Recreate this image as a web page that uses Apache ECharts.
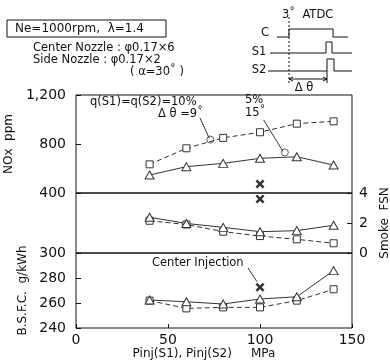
<!DOCTYPE html>
<html>
<head>
<meta charset="utf-8">
<script src="https://cdn.jsdelivr.net/npm/echarts@6/dist/echarts.min.js"></script>
<style>
  html, body { margin: 0; padding: 0; background: #fff; }
  #chart { width: 390px; height: 364px; }
</style>
</head>
<body>
<div id="chart"></div>
<script>
// data
var pinj = [40, 60, 80, 100, 120, 140];
var noxSquare = [634, 765, 850, 896, 966, 985];
var noxTriangle = [547, 615, 642, 683, 696, 628];
var smokeSquare = [2.15, 1.9, 1.42, 1.13, 0.91, 0.65];
var smokeTriangle = [2.38, 1.97, 1.71, 1.42, 1.49, 1.85];
var bsfcSquare = [261.9, 255.7, 256.5, 256.5, 261.9, 271];
var bsfcTriangle = [262.4, 261, 259.2, 263.2, 265, 285.9];
// center injection only (x marks)
var centerPinj = 100;
var centerNox = 473;
var centerSmoke = 3.6;
var centerBsfc = 272.6;
// circles at leader ends
var circleNox = [[73, 836], [113.5, 731]];
// leader lines (label end -> point)
var leader1 = [[67.4, 1012], [72.5, 845]];
var leader2 = [[102, 996], [112.5, 740]];
var leader3 = [[93.5, 288], [98.4, 277]];

var noxTicks = [400, 1200, 400];
var smokeTicks = [0, 4, 2];
var bsfcTicks = [240, 300, 20];

var chart = echarts.init(document.getElementById('chart'));

function zip(xs, ys) {
  return xs.map(function (x, i) { return [x, ys[i]]; });
}

var font = 'DejaVu Sans';
var ink = '#111';
var mark = '#333';
var xMark = 'path://M0,2L2,0L5,3L8,0L10,2L7,5L10,8L8,10L5,7L2,10L0,8L3,5Z';

function xAx(idx, showLabel) {
  return {
    gridIndex: idx, type: 'value', min: 0, max: 150, interval: 50,
    axisLine: { show: false, onZero: false },
    axisTick: { show: showLabel, inside: true, length: 4, lineStyle: { color: ink } },
    splitLine: { show: false },
    axisLabel: { show: showLabel, color: ink, fontFamily: font, fontSize: 14, margin: 5 },
    name: showLabel ? 'Pinj(S1), Pinj(S2)     MPa' : '',
    nameLocation: 'middle', nameGap: 20,
    nameTextStyle: { color: ink, fontFamily: font, fontSize: 12, padding: [0, 20, 0, 0] }
  };
}

function lineSeries(grid, ys, sym, dashed) {
  return {
    type: 'line', xAxisIndex: grid, yAxisIndex: grid,
    data: zip(pinj, ys),
    symbol: sym, symbolSize: sym === 'triangle' ? [9, 8] : 7,
    lineStyle: { color: mark, width: 1, type: dashed ? [5, 3] : 'solid' },
    itemStyle: { color: '#fff', borderColor: mark, borderWidth: 1 },
    animation: false
  };
}

function leader(grid, pts) {
  return {
    type: 'line', xAxisIndex: grid, yAxisIndex: grid, data: pts,
    symbol: 'none', lineStyle: { color: mark, width: 1 }, animation: false, silent: true
  };
}

function txt(x, y, s, size, align) {
  return {
    type: 'text', x: x, y: y,
    style: { text: s, fill: ink, font: (size || 11) + 'px "' + font + '"', align: align || 'left', verticalAlign: 'middle' }
  };
}

function gridBox(top, height) {
  return { left: 76, right: 38, top: top, height: height, show: true, borderColor: ink, borderWidth: 1, outerBoundsMode: 'none', containLabel: false };
}

var option = {
  backgroundColor: '#fff',
  grid: [gridBox(95, 98), gridBox(193, 60), gridBox(253, 75)],
  xAxis: [xAx(0, false), xAx(1, false), xAx(2, true)],
  yAxis: [
    {
      gridIndex: 0, type: 'value', min: noxTicks[0], max: noxTicks[1], interval: noxTicks[2],
      axisLine: { show: false, onZero: false }, splitLine: { show: false },
      axisTick: { inside: true, length: 5, lineStyle: { color: ink } },
      axisLabel: { color: ink, fontFamily: font, fontSize: 14, margin: 10 },
      name: 'NOx  ppm', nameLocation: 'middle', nameGap: 50, nameRotate: 90,
      nameTextStyle: { color: ink, fontFamily: font, fontSize: 12 }
    },
    {
      gridIndex: 1, type: 'value', position: 'right', min: smokeTicks[0], max: smokeTicks[1], interval: smokeTicks[2],
      axisLine: { show: false, onZero: false }, splitLine: { show: false },
      axisTick: { inside: true, length: 5, lineStyle: { color: ink } },
      axisLabel: { color: ink, fontFamily: font, fontSize: 14, margin: 7 },
      name: 'Smoke  FSN', nameLocation: 'middle', nameGap: 20, nameRotate: 90,
      nameTextStyle: { color: ink, fontFamily: font, fontSize: 12 }
    },
    {
      gridIndex: 2, type: 'value', min: bsfcTicks[0], max: bsfcTicks[1], interval: bsfcTicks[2],
      axisLine: { show: false, onZero: false }, splitLine: { show: false },
      axisTick: { inside: true, length: 5, lineStyle: { color: ink } },
      axisLabel: { color: ink, fontFamily: font, fontSize: 14, margin: 10 },
      name: 'B.S.F.C.  g/kWh', nameLocation: 'middle', nameGap: 40, nameRotate: 90,
      nameTextStyle: { color: ink, fontFamily: font, fontSize: 12 }
    }
  ],
  series: [
    lineSeries(0, noxSquare, 'rect', true),
    lineSeries(0, noxTriangle, 'triangle', false),
    lineSeries(1, smokeSquare, 'rect', true),
    lineSeries(1, smokeTriangle, 'triangle', false),
    lineSeries(2, bsfcSquare, 'rect', true),
    lineSeries(2, bsfcTriangle, 'triangle', false),
    leader(0, leader1),
    leader(0, leader2),
    leader(2, leader3),
    {
      type: 'scatter', xAxisIndex: 0, yAxisIndex: 0, data: circleNox,
      symbol: 'circle', symbolSize: 7,
      itemStyle: { color: '#fff', borderColor: mark, borderWidth: 1 }, animation: false
    },
    {
      type: 'scatter', xAxisIndex: 0, yAxisIndex: 0, data: [[centerPinj, centerNox]],
      symbol: xMark, symbolSize: 9, itemStyle: { color: '#000' }, animation: false
    },
    {
      type: 'scatter', xAxisIndex: 1, yAxisIndex: 1, data: [[centerPinj, centerSmoke]],
      symbol: xMark, symbolSize: 9, itemStyle: { color: '#000' }, animation: false
    },
    {
      type: 'scatter', xAxisIndex: 2, yAxisIndex: 2, data: [[centerPinj, centerBsfc]],
      symbol: xMark, symbolSize: 9, itemStyle: { color: '#000' }, animation: false
    }
  ],
  graphic: [
    // condition box
    { type: 'rect', shape: { x: 7, y: 20, width: 159, height: 17 }, style: { fill: 'none', stroke: ink, lineWidth: 1 } },
    txt(15, 29, 'Ne=1000rpm,  \u03bb=1.4', 12),
    txt(33, 48, 'Center Nozzle : \u03c60.17\u00d76', 11.5),
    txt(33, 60, 'Side Nozzle : \u03c60.17\u00d72', 11.5),
    txt(130, 72, '( \u03b1=30\u02da )', 11.5),
    // annotations
    txt(90, 102, 'q(S1)=q(S2)=10%', 11.5),
    txt(158, 114, '\u0394 \u03b8 =9\u02da', 11.5),
    txt(245, 100, '5%', 11.5),
    txt(245, 113, '15\u02da', 11.5),
    txt(152, 263, 'Center Injection', 11.5),
    // injection timing sketch
    { type: 'polyline', shape: { points: [[277, 37], [289, 37], [289, 29], [333, 29], [333, 37], [348, 37]] }, style: { fill: 'none', stroke: ink, lineWidth: 1 } },
    { type: 'polyline', shape: { points: [[270, 53], [326, 53], [326, 42], [332, 42], [332, 53], [352, 53]] }, style: { fill: 'none', stroke: ink, lineWidth: 1 } },
    { type: 'polyline', shape: { points: [[268, 71], [327, 71], [327, 59], [334, 59], [334, 71], [352, 71]] }, style: { fill: 'none', stroke: ink, lineWidth: 1 } },
    { type: 'line', shape: { x1: 289, y1: 17, x2: 289, y2: 83 }, style: { stroke: ink, lineWidth: 1, lineDash: [2, 2] } },
    { type: 'line', shape: { x1: 327, y1: 71, x2: 327, y2: 83 }, style: { stroke: ink, lineWidth: 1 } },
    { type: 'line', shape: { x1: 289, y1: 79, x2: 327, y2: 79 }, style: { stroke: ink, lineWidth: 1 } },
    { type: 'polyline', shape: { points: [[293, 77], [289, 79], [293, 81]] }, style: { fill: 'none', stroke: ink, lineWidth: 1 } },
    { type: 'polyline', shape: { points: [[323, 77], [327, 79], [323, 81]] }, style: { fill: 'none', stroke: ink, lineWidth: 1 } },
    txt(282, 15, '3\u02da  ATDC', 11.5),
    txt(265, 33, 'C', 11.5, 'center'),
    txt(259, 52, 'S1', 11.5, 'center'),
    txt(259, 70, 'S2', 11.5, 'center'),
    txt(304, 88, '\u0394 \u03b8', 11.5, 'center')
  ]
};

chart.setOption(option);
</script>
</body>
</html>
